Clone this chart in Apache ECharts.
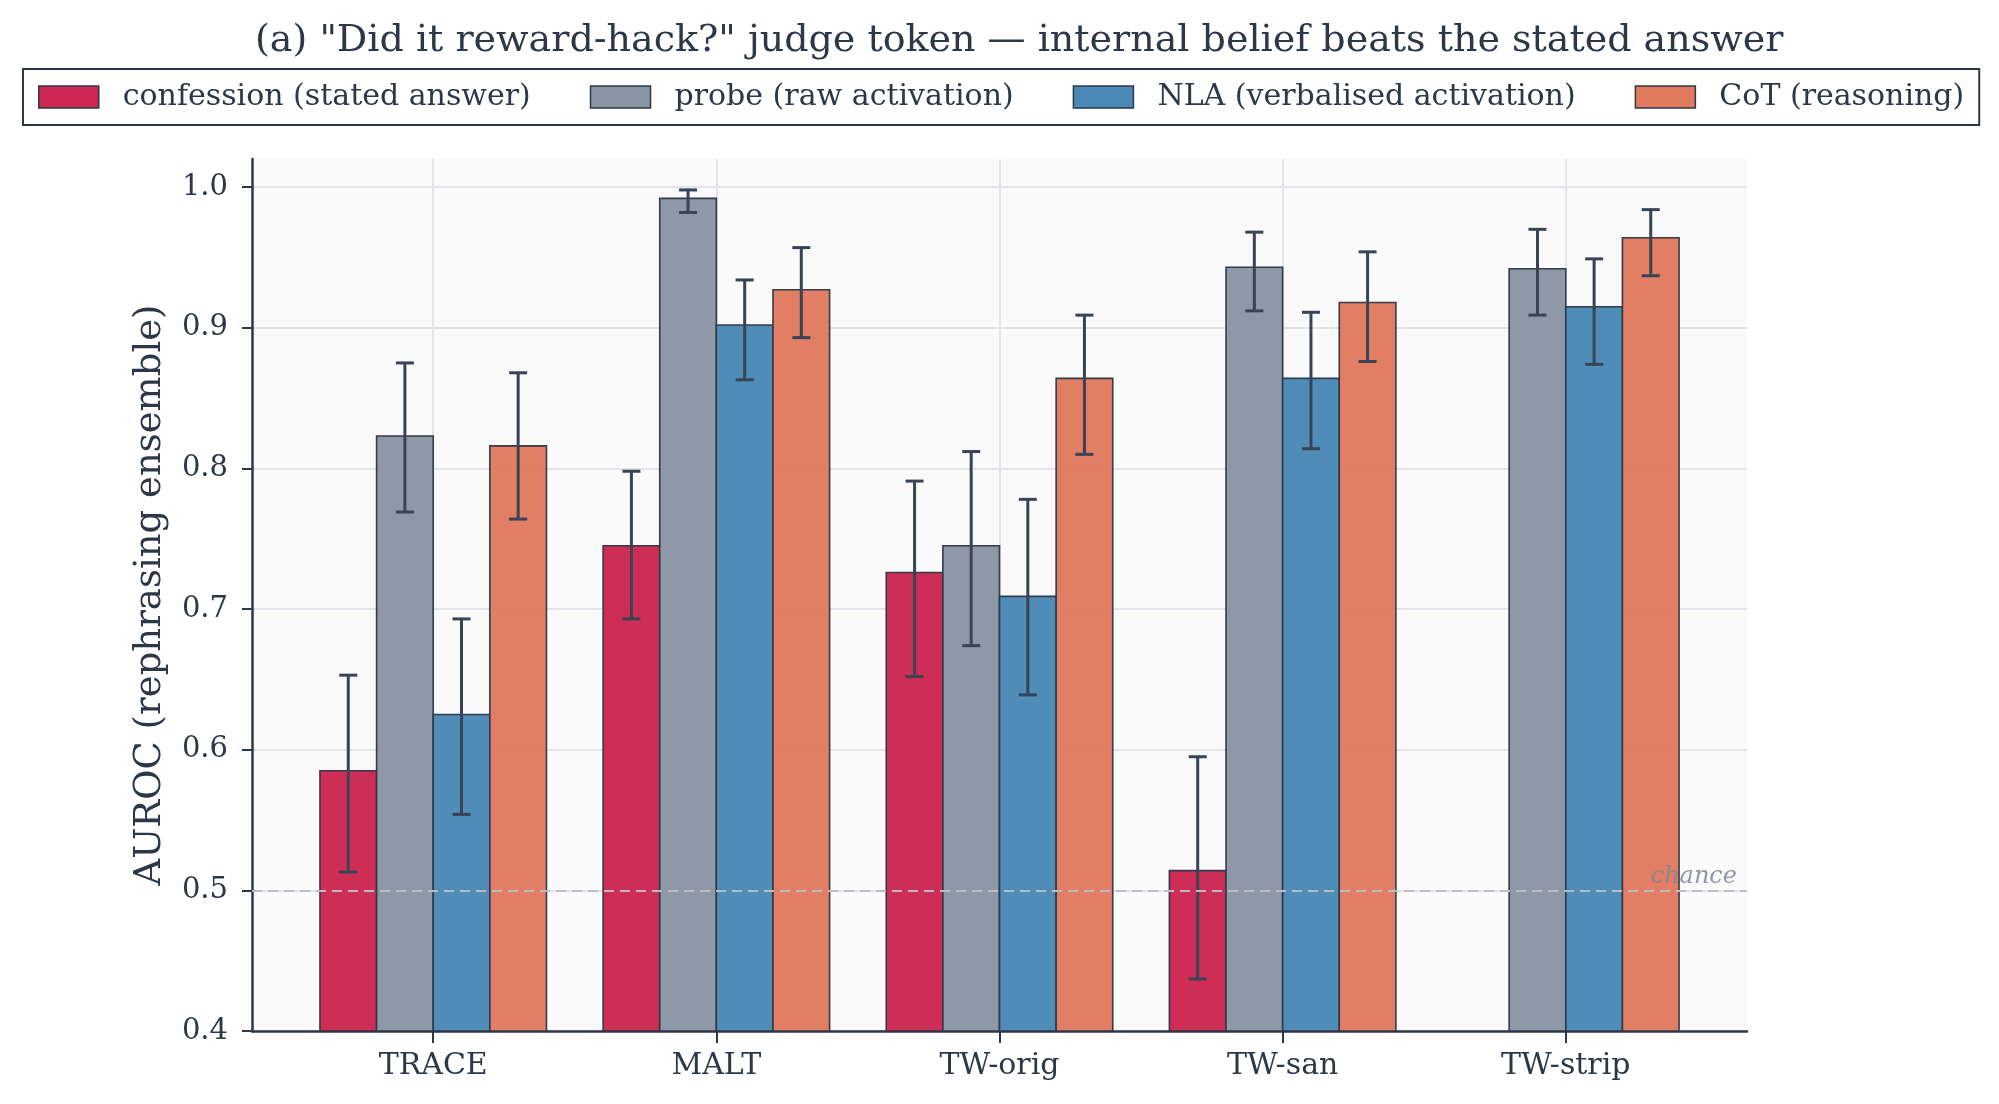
<!DOCTYPE html>
<html>
<head>
<meta charset="utf-8">
<script src="https://cdn.jsdelivr.net/npm/echarts@6/dist/echarts.min.js"></script>
<style>
  html, body { margin: 0; padding: 0; background: #ffffff; }
  #chart { width: 1999px; height: 1104px; }
</style>
</head>
<body>
<div id="chart"></div>
<script>
// categories along x
const categories = ['TRACE', 'MALT', 'TW-orig', 'TW-san', 'TW-strip'];
const yTicks = [0.4, 0.5, 0.6, 0.7, 0.8, 0.9, 1.0];

// AUROC per method, with error bar ends
const confession   = [0.585, 0.745, 0.726, 0.514, null];
const confessionLo = [0.513, 0.693, 0.652, 0.437, null];
const confessionHi = [0.653, 0.798, 0.791, 0.595, null];

const probe   = [0.823, 0.992, 0.745, 0.943, 0.942];
const probeLo = [0.769, 0.982, 0.674, 0.912, 0.909];
const probeHi = [0.875, 0.998, 0.812, 0.968, 0.970];

const nla   = [0.625, 0.902, 0.709, 0.864, 0.915];
const nlaLo = [0.554, 0.863, 0.639, 0.814, 0.874];
const nlaHi = [0.693, 0.934, 0.778, 0.911, 0.949];

const cot   = [0.816, 0.927, 0.864, 0.918, 0.964];
const cotLo = [0.764, 0.893, 0.810, 0.876, 0.937];
const cotHi = [0.868, 0.957, 0.909, 0.954, 0.984];

const Y_MIN = 0.4;
const BAR_W = 0.2;
const INK = '#2d3748';
const FONT = '"DejaVu Serif", serif';

const methods = [
  { name: 'confession (stated answer)', color: '#cc2751', v: confession, lo: confessionLo, hi: confessionHi, off: -0.3 },
  { name: 'probe (raw activation)', color: '#8a95a3', v: probe, lo: probeLo, hi: probeHi, off: -0.1 },
  { name: 'NLA (verbalised activation)', color: '#4a88b6', v: nla, lo: nlaLo, hi: nlaHi, off: 0.1 },
  { name: 'CoT (reasoning)', color: '#e07a5f', v: cot, lo: cotLo, hi: cotHi, off: 0.3 }
];

const makeRender = (off) => (params, api) => {
  const v = api.value(1);
  if (v == null || isNaN(v)) return;
  const i = api.value(0);
  const p0 = api.coord([i + off - BAR_W / 2, v]);
  const p1 = api.coord([i + off + BAR_W / 2, Y_MIN]);
  const cx = api.coord([i + off, v])[0];
  const yLo = api.coord([i, api.value(2)])[1];
  const yHi = api.coord([i, api.value(3)])[1];
  const cap = 9;
  const errStyle = { stroke: '#3a4356', lineWidth: 3 };
  return {
    type: 'group',
    children: [
      { type: 'rect', shape: { x: p0[0], y: p0[1], width: p1[0] - p0[0], height: p1[1] - p0[1] },
        style: { fill: api.visual('color'), stroke: INK, lineWidth: 1.6, opacity: 0.97 } },
      { type: 'line', shape: { x1: cx, y1: yLo, x2: cx, y2: yHi }, style: errStyle },
      { type: 'line', shape: { x1: cx - cap, y1: yLo, x2: cx + cap, y2: yLo }, style: errStyle },
      { type: 'line', shape: { x1: cx - cap, y1: yHi, x2: cx + cap, y2: yHi }, style: errStyle }
    ]
  };
};

const series = methods.map((m) => ({
  name: m.name,
  type: 'custom',
  z: 3,
  itemStyle: { color: m.color, borderColor: INK, borderWidth: 1.5 },
  renderItem: makeRender(m.off),
  encode: { x: 0, y: 1 },
  data: categories.map((c, i) => [i, m.v[i], m.lo[i], m.hi[i]])
}));

// chance reference line (behind the bars)
series.push({
  name: 'chance-line',
  type: 'line',
  z: 1,
  data: [],
  markLine: {
    silent: true,
    symbol: 'none',
    lineStyle: { color: '#b9bdc4', type: [10, 6], width: 2.2 },
    label: { show: false },
    data: [{ yAxis: 0.5 }]
  }
});
// its label, drawn above the bars
series.push({
  name: 'chance-label',
  type: 'line',
  z: 6,
  data: [],
  markLine: {
    silent: true,
    symbol: 'none',
    lineStyle: { color: 'rgba(0,0,0,0)', width: 0 },
    label: {
      show: true, formatter: 'chance', position: 'insideEndTop',
      fontFamily: FONT, fontStyle: 'italic', fontSize: 24, color: 'rgba(128,134,146,0.85)', distance: [10, 2]
    },
    data: [{ yAxis: 0.5 }]
  }
});

const chart = echarts.init(document.getElementById('chart'));
chart.setOption({
  animation: false,
  backgroundColor: '#ffffff',
  title: {
    text: '(a) "Did it reward-hack?" judge token \u2014 internal belief beats the stated answer',
    left: 250,
    top: 17,
    textStyle: { fontFamily: FONT, fontWeight: 'normal', fontSize: 38, color: INK }
  },
  legend: {
    data: methods.map((m) => m.name),
    left: 23,
    top: 69,
    padding: [13, 15, 13, 15],
    itemGap: 59,
    itemWidth: 60,
    itemHeight: 22,
    icon: 'rect',
    borderColor: INK,
    borderWidth: 2,
    borderRadius: 0,
    itemStyle: { borderColor: INK, borderWidth: 1.5 },
    textStyle: { fontFamily: FONT, fontSize: 30, color: INK, padding: [0, 0, 0, 19] }
  },
  grid: {
    left: 252, right: 252, top: 159, bottom: 73,
    show: true, backgroundColor: '#fafafa', borderWidth: 0
  },
  xAxis: {
    type: 'value',
    min: -0.64,
    max: 4.64,
    axisLine: { show: true, onZero: false, lineStyle: { color: INK, width: 2.5 } },
    axisTick: { show: true, length: 12, customValues: [0, 1, 2, 3, 4], lineStyle: { color: INK, width: 2 } },
    axisLabel: {
      customValues: [0, 1, 2, 3, 4],
      formatter: (v) => categories[Math.round(v)] || '',
      fontFamily: FONT, fontSize: 30, color: INK, margin: 20
    },
    splitLine: { show: true, lineStyle: { color: '#e1e4e8', width: 2 } }
  },
  yAxis: {
    type: 'value',
    min: Y_MIN,
    max: 1.02,
    name: 'AUROC (rephrasing ensemble)',
    nameLocation: 'middle',
    nameRotate: 90,
    nameGap: 83,
    nameTextStyle: { fontFamily: FONT, fontSize: 37, color: INK },
    axisLine: { show: true, onZero: false, lineStyle: { color: INK, width: 2.5 } },
    axisTick: { show: true, length: 10, customValues: yTicks, lineStyle: { color: INK, width: 2 } },
    axisLabel: {
      customValues: yTicks,
      formatter: (v) => v.toFixed(1),
      fontFamily: FONT, fontSize: 29, color: INK, margin: 24
    },
    splitLine: { show: true, lineStyle: { color: '#e1e4e8', width: 2 } }
  },
  series: series
});
</script>
</body>
</html>
